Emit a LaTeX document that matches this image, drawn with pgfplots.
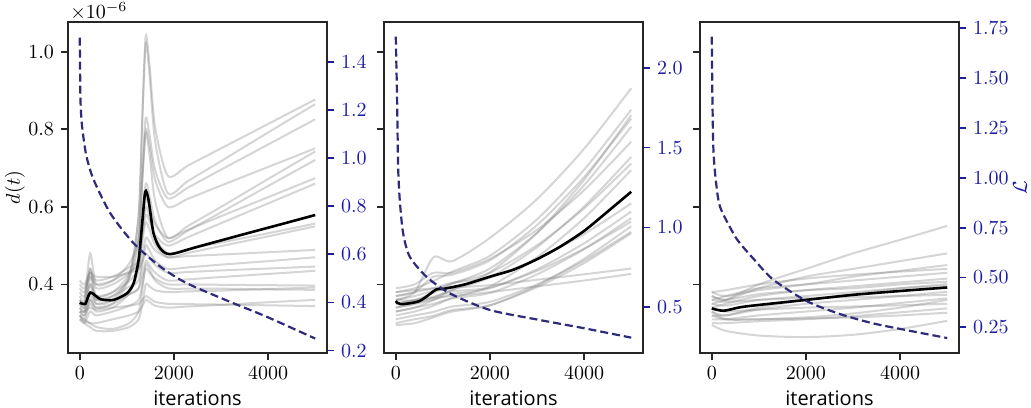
\documentclass[border=0pt]{standalone}
\usepackage{fontspec}
\setmainfont{Open Sans}
\usepackage{pgfplots}
\pgfplotsset{compat=1.18}
\definecolor{lossc}{RGB}{46,43,122}
\definecolor{rblue}{RGB}{28,28,165}
\definecolor{frame}{RGB}{38,38,38}
\pgfplotsset{
  base/.style={width=129.5pt,height=165.5pt,scale only axis,
    xmin=-250,xmax=5250,
    tick align=outside, major tick length=3.5pt,
    axis line style={frame,line width=0.9pt},
    every tick/.style={frame,line width=0.9pt},
    tick label style={font=\fontsize{10}{12}\selectfont},
    label style={font=\fontsize{10}{12}\selectfont}},
  leftax/.style={base, ymin=0.223, ymax=1.077,
    xtick={0,2000,4000}, ytick={0.4,0.6,0.8,1.0},
    xtick pos=bottom, ytick pos=left,
    xticklabel style={/pgf/number format/1000 sep={}},
    xlabel={iterations},
    every axis x label/.style={at={(axis description cs:0.5,0)},anchor=north,inner sep=0pt,yshift=-18.5pt},
    yticklabel={\pgfmathprintnumber[fixed,fixed zerofill,precision=1]{\tick}},
    scaled y ticks=false},
  rightax/.style={base, axis y line*=right, axis x line=none,
    every y tick/.style={rblue,line width=0.9pt},
    yticklabel style={rblue},
    scaled y ticks=false},
  gl/.style={gray, opacity=0.33, line width=1pt, smooth, tension=0.45},
  ml/.style={black, line width=1.3pt, smooth, tension=0.45},
  ll/.style={lossc, line width=1.1pt, dash pattern=on 4pt off 2pt, smooth, tension=0.45}
}
\begin{document}
\begin{tikzpicture}
\path[use as bounding box] (0,0) rectangle (515.5pt,203.5pt);
% ---------------- Panel 1 ----------------
\begin{axis}[leftax, name=p1, at={(34pt,27pt)}, anchor=south west,
  ylabel={$d(t)$},
  every axis y label/.style={at={(axis description cs:-0.205,0.5)},rotate=90,anchor=center}]
\addplot[gl] coordinates {(0,0.33)(100,0.32)(220,0.36)(350,0.34)(700,0.35)(1050,0.417)(1250,0.579)(1330,0.841)(1400,1.04)(1480,0.968)(1600,0.806)(1870,0.68)(2300,0.707)(3000,0.751)(4000,0.814)(5000,0.877)};
\addplot[gl] coordinates {(0,0.34)(100,0.33)(220,0.40)(350,0.35)(700,0.36)(1050,0.424)(1250,0.578)(1330,0.830)(1400,1.02)(1480,0.943)(1600,0.770)(1870,0.635)(2300,0.667)(3000,0.718)(4000,0.792)(5000,0.865)};
\addplot[gl] coordinates {(0,0.36)(100,0.35)(220,0.44)(350,0.37)(700,0.38)(1050,0.428)(1250,0.525)(1330,0.698)(1400,0.83)(1480,0.788)(1600,0.695)(1870,0.622)(2300,0.65)(3000,0.696)(4000,0.761)(5000,0.826)};
\addplot[gl] coordinates {(0,0.35)(100,0.34)(220,0.42)(350,0.36)(700,0.37)(1050,0.416)(1250,0.508)(1330,0.674)(1400,0.80)(1480,0.76)(1600,0.67)(1870,0.60)(2300,0.621)(3000,0.655)(4000,0.703)(5000,0.751)};
\addplot[gl] coordinates {(0,0.37)(100,0.36)(220,0.48)(350,0.40)(700,0.41)(1050,0.454)(1250,0.517)(1330,0.672)(1400,0.79)(1480,0.736)(1600,0.615)(1870,0.52)(2300,0.551)(3000,0.60)(4000,0.672)(5000,0.743)};
\addplot[gl] coordinates {(0,0.32)(100,0.31)(220,0.35)(350,0.33)(700,0.34)(1050,0.377)(1250,0.439)(1330,0.565)(1400,0.66)(1480,0.63)(1600,0.563)(1870,0.51)(2300,0.539)(3000,0.586)(4000,0.654)(5000,0.721)};
\addplot[gl] coordinates {(0,0.38)(100,0.37)(220,0.44)(350,0.39)(700,0.40)(1050,0.429)(1250,0.464)(1330,0.553)(1400,0.62)(1480,0.60)(1600,0.555)(1870,0.52)(2300,0.541)(3000,0.576)(4000,0.625)(5000,0.674)};
\addplot[gl] coordinates {(0,0.40)(100,0.39)(220,0.43)(350,0.41)(700,0.42)(1050,0.444)(1250,0.463)(1330,0.53)(1400,0.58)(1480,0.564)(1600,0.528)(1870,0.50)(2300,0.522)(3000,0.558)(4000,0.609)(5000,0.66)};
\addplot[gl] coordinates {(0,0.36)(100,0.35)(220,0.40)(350,0.37)(700,0.38)(1050,0.409)(1250,0.444)(1330,0.533)(1400,0.60)(1480,0.576)(1600,0.522)(1870,0.48)(2300,0.491)(3000,0.508)(4000,0.532)(5000,0.557)};
\addplot[gl] coordinates {(0,0.39)(100,0.38)(220,0.42)(350,0.40)(700,0.41)(1050,0.434)(1250,0.45)(1330,0.512)(1400,0.56)(1480,0.542)(1600,0.502)(1870,0.47)(2300,0.481)(3000,0.499)(4000,0.524)(5000,0.55)};
\addplot[gl] coordinates {(0,0.35)(100,0.34)(220,0.38)(350,0.36)(700,0.37)(1050,0.394)(1250,0.41)(1330,0.472)(1400,0.52)(1480,0.51)(1600,0.488)(1870,0.47)(2300,0.473)(3000,0.477)(4000,0.483)(5000,0.489)};
\addplot[gl] coordinates {(0,0.33)(100,0.32)(220,0.36)(350,0.34)(700,0.35)(1050,0.374)(1250,0.39)(1330,0.452)(1400,0.50)(1480,0.488)(1600,0.461)(1870,0.44)(2300,0.444)(3000,0.451)(4000,0.46)(5000,0.47)};
\addplot[gl] coordinates {(0,0.41)(100,0.40)(220,0.43)(350,0.42)(700,0.42)(1050,0.43)(1250,0.44)(1330,0.46)(1400,0.48)(1480,0.47)(1600,0.45)(1870,0.43)(2300,0.432)(3000,0.436)(4000,0.441)(5000,0.446)};
\addplot[gl] coordinates {(0,0.34)(100,0.33)(220,0.37)(350,0.35)(700,0.36)(1050,0.375)(1250,0.39)(1330,0.42)(1400,0.46)(1480,0.45)(1600,0.43)(1870,0.41)(2300,0.413)(3000,0.419)(4000,0.427)(5000,0.435)};
\addplot[gl] coordinates {(0,0.31)(100,0.30)(220,0.33)(350,0.32)(700,0.33)(1050,0.345)(1250,0.36)(1330,0.40)(1400,0.44)(1480,0.43)(1600,0.415)(1870,0.40)(2300,0.40)(3000,0.399)(4000,0.398)(5000,0.397)};
\addplot[gl] coordinates {(0,0.32)(100,0.31)(220,0.30)(350,0.29)(700,0.285)(1050,0.30)(1250,0.33)(1330,0.39)(1400,0.45)(1480,0.44)(1600,0.41)(1870,0.39)(2300,0.389)(3000,0.389)(4000,0.387)(5000,0.386)};
\addplot[gl] coordinates {(0,0.33)(100,0.33)(220,0.34)(350,0.335)(700,0.34)(1050,0.345)(1250,0.35)(1330,0.36)(1400,0.37)(1480,0.365)(1600,0.355)(1870,0.35)(2300,0.349)(3000,0.348)(4000,0.346)(5000,0.344)};
\addplot[gl] coordinates {(0,0.31)(100,0.305)(220,0.30)(350,0.30)(700,0.31)(1050,0.32)(1250,0.33)(1330,0.345)(1400,0.36)(1480,0.355)(1600,0.345)(1870,0.34)(2300,0.343)(3000,0.347)(4000,0.354)(5000,0.36)};
\addplot[gl] coordinates {(0,0.32)(100,0.30)(220,0.29)(350,0.28)(700,0.28)(1050,0.29)(1250,0.31)(1330,0.35)(1400,0.40)(1480,0.395)(1600,0.385)(1870,0.38)(2300,0.382)(3000,0.384)(4000,0.388)(5000,0.392)};
\addplot[ml] coordinates {(0,0.353)(120,0.350)(226,0.379)(437,0.362)(720,0.360)(1000,0.377)(1143,0.403)(1249,0.463)(1319,0.549)(1390,0.639)(1460,0.618)(1566,0.532)(1707,0.493)(1919,0.478)(2500,0.497)(3500,0.53)(4300,0.556)(5000,0.579)};
\end{axis}
\node[anchor=base west,inner sep=0pt,font=\fontsize{10}{12}\selectfont] at ([xshift=1pt,yshift=1.8pt]p1.north west) {$\times10^{-6}$};
\begin{axis}[rightax, at={(34pt,27pt)}, anchor=south west,
  ymin=0.19, ymax=1.565, ytick={0.2,0.4,0.6,0.8,1.0,1.2,1.4},
  yticklabel={\pgfmathprintnumber[fixed,fixed zerofill,precision=1]{\tick}}]
\addplot[ll] coordinates {(0,1.50)(5,1.40)(15,1.24)(40,1.15)(85,1.075)(150,1.0)(296,0.909)(650,0.770)(1143,0.646)(1708,0.549)(2272,0.480)(3260,0.397)(3965,0.341)(5000,0.25)};
\end{axis}
% ---------------- Panel 2 ----------------
\begin{axis}[leftax, at={(192pt,27pt)}, anchor=south west, yticklabels={}]
\addplot[gl] coordinates {(0,0.36)(400,0.38)(800,0.47)(1200,0.46)(2000,0.52)(3000,0.62)(4000,0.75)(5000,0.906)};
\addplot[gl] coordinates {(0,0.38)(400,0.39)(800,0.409)(1200,0.433)(2000,0.474)(3000,0.568)(4000,0.696)(5000,0.851)};
\addplot[gl] coordinates {(0,0.33)(400,0.34)(800,0.36)(1200,0.386)(2000,0.431)(3000,0.533)(4000,0.67)(5000,0.837)};
\addplot[gl] coordinates {(0,0.37)(400,0.38)(800,0.42)(1200,0.425)(2000,0.462)(3000,0.553)(4000,0.677)(5000,0.828)};
\addplot[gl] coordinates {(0,0.35)(400,0.36)(800,0.378)(1200,0.402)(2000,0.441)(3000,0.533)(4000,0.656)(5000,0.807)};
\addplot[gl] coordinates {(0,0.39)(400,0.40)(800,0.43)(1200,0.43)(2000,0.466)(3000,0.541)(4000,0.643)(5000,0.768)};
\addplot[gl] coordinates {(0,0.34)(400,0.35)(800,0.366)(1200,0.386)(2000,0.418)(3000,0.496)(4000,0.601)(5000,0.729)};
\addplot[gl] coordinates {(0,0.36)(400,0.37)(800,0.384)(1200,0.403)(2000,0.43)(3000,0.501)(4000,0.596)(5000,0.712)};
\addplot[gl] coordinates {(0,0.32)(400,0.33)(800,0.345)(1200,0.365)(2000,0.395)(3000,0.47)(4000,0.571)(5000,0.695)};
\addplot[gl] coordinates {(0,0.37)(400,0.38)(800,0.39)(1200,0.404)(2000,0.418)(3000,0.466)(4000,0.53)(5000,0.609)};
\addplot[gl] coordinates {(0,0.34)(400,0.35)(800,0.36)(1200,0.375)(2000,0.39)(3000,0.439)(4000,0.506)(5000,0.588)};
\addplot[gl] coordinates {(0,0.33)(400,0.34)(800,0.35)(1200,0.364)(2000,0.378)(3000,0.426)(4000,0.491)(5000,0.571)};
\addplot[gl] coordinates {(0,0.35)(400,0.36)(800,0.368)(1200,0.382)(2000,0.392)(3000,0.435)(4000,0.492)(5000,0.562)};
\addplot[gl] coordinates {(0,0.31)(400,0.32)(800,0.329)(1200,0.343)(2000,0.355)(3000,0.40)(4000,0.461)(5000,0.536)};
\addplot[gl] coordinates {(0,0.30)(400,0.31)(800,0.319)(1200,0.334)(2000,0.346)(3000,0.393)(4000,0.455)(5000,0.532)};
\addplot[gl] coordinates {(0,0.38)(400,0.385)(800,0.39)(1200,0.392)(2000,0.398)(3000,0.412)(4000,0.426)(5000,0.441)};
\addplot[gl] coordinates {(0,0.36)(400,0.358)(800,0.365)(1200,0.37)(2000,0.38)(3000,0.395)(4000,0.41)(5000,0.427)};
\addplot[gl] coordinates {(0,0.295)(400,0.30)(800,0.315)(1200,0.33)(2000,0.346)(3000,0.397)(4000,0.466)(5000,0.55)};
\addplot[ml] coordinates {(0,0.357)(100,0.349)(500,0.357)(860,0.387)(1000,0.388)(1500,0.401)(2000,0.42)(2500,0.438)(3000,0.465)(3500,0.498)(4000,0.538)(4500,0.588)(5000,0.639)};
\end{axis}
\begin{axis}[rightax, at={(192pt,27pt)}, anchor=south west,
  ymin=0.214, ymax=2.286, ytick={0.5,1.0,1.5,2.0},
  yticklabel={\pgfmathprintnumber[fixed,fixed zerofill,precision=1]{\tick}}]
\addplot[ll] coordinates {(0,2.194)(28,1.80)(50,1.38)(85,1.17)(156,0.964)(296,0.817)(650,0.692)(1143,0.588)(1990,0.484)(3048,0.421)(4000,0.369)(5000,0.31)};
\end{axis}
% ---------------- Panel 3 ----------------
\begin{axis}[leftax, at={(350pt,27pt)}, anchor=south west, yticklabels={}]
\addplot[gl] coordinates {(0,0.35)(300,0.36)(1000,0.40)(2000,0.44)(3000,0.48)(4000,0.515)(5000,0.551)};
\addplot[gl] coordinates {(0,0.37)(300,0.36)(1000,0.39)(2000,0.42)(3000,0.44)(4000,0.46)(5000,0.48)};
\addplot[gl] coordinates {(0,0.38)(300,0.37)(1000,0.385)(2000,0.40)(3000,0.42)(4000,0.435)(5000,0.45)};
\addplot[gl] coordinates {(0,0.36)(300,0.37)(1000,0.39)(2000,0.40)(3000,0.41)(4000,0.42)(5000,0.43)};
\addplot[gl] coordinates {(0,0.34)(300,0.35)(1000,0.37)(2000,0.385)(3000,0.395)(4000,0.405)(5000,0.415)};
\addplot[gl] coordinates {(0,0.37)(300,0.36)(1000,0.375)(2000,0.385)(3000,0.39)(4000,0.40)(5000,0.407)};
\addplot[gl] coordinates {(0,0.33)(300,0.32)(1000,0.34)(2000,0.36)(3000,0.375)(4000,0.39)(5000,0.401)};
\addplot[gl] coordinates {(0,0.35)(300,0.345)(1000,0.36)(2000,0.37)(3000,0.38)(4000,0.39)(5000,0.396)};
\addplot[gl] coordinates {(0,0.32)(300,0.32)(1000,0.335)(2000,0.35)(3000,0.36)(4000,0.37)(5000,0.381)};
\addplot[gl] coordinates {(0,0.36)(300,0.355)(1000,0.36)(2000,0.365)(3000,0.367)(4000,0.37)(5000,0.373)};
\addplot[gl] coordinates {(0,0.31)(300,0.31)(1000,0.32)(2000,0.33)(3000,0.34)(4000,0.352)(5000,0.364)};
\addplot[gl] coordinates {(0,0.34)(300,0.33)(1000,0.335)(2000,0.34)(3000,0.343)(4000,0.346)(5000,0.35)};
\addplot[gl] coordinates {(0,0.30)(300,0.30)(1000,0.305)(2000,0.31)(3000,0.318)(4000,0.328)(5000,0.338)};
\addplot[gl] coordinates {(0,0.32)(300,0.31)(1000,0.31)(2000,0.312)(3000,0.315)(4000,0.32)(5000,0.327)};
\addplot[gl] coordinates {(0,0.295)(300,0.28)(1000,0.268)(2000,0.264)(3000,0.27)(4000,0.285)(5000,0.306)};
\addplot[gl] coordinates {(0,0.38)(300,0.385)(1000,0.40)(2000,0.415)(3000,0.425)(4000,0.433)(5000,0.44)};
\addplot[gl] coordinates {(0,0.33)(300,0.31)(1000,0.31)(2000,0.315)(3000,0.325)(4000,0.34)(5000,0.36)};
\addplot[ml] coordinates {(0,0.338)(250,0.332)(600,0.341)(1000,0.347)(2000,0.36)(3000,0.373)(4000,0.383)(5000,0.392)};
\end{axis}
\begin{axis}[rightax, at={(350pt,27pt)}, anchor=south west,
  ymin=0.121, ymax=1.782, ytick={0.25,0.5,0.75,1.0,1.25,1.5,1.75},
  yticklabel={\pgfmathprintnumber[fixed,fixed zerofill,precision=2]{\tick}},
  ylabel={$\mathcal{L}$},
  every axis y label/.style={at={(axis description cs:1.2355,0.5)},rotate=90,anchor=center,rblue}]
\addplot[ll] coordinates {(0,1.708)(14,1.39)(35,1.14)(85,0.989)(175,0.855)(458,0.721)(600,0.671)(881,0.595)(1300,0.49)(2011,0.382)(2715,0.317)(3420,0.270)(4127,0.236)(5000,0.196)};
\end{axis}
\end{tikzpicture}
\end{document}
